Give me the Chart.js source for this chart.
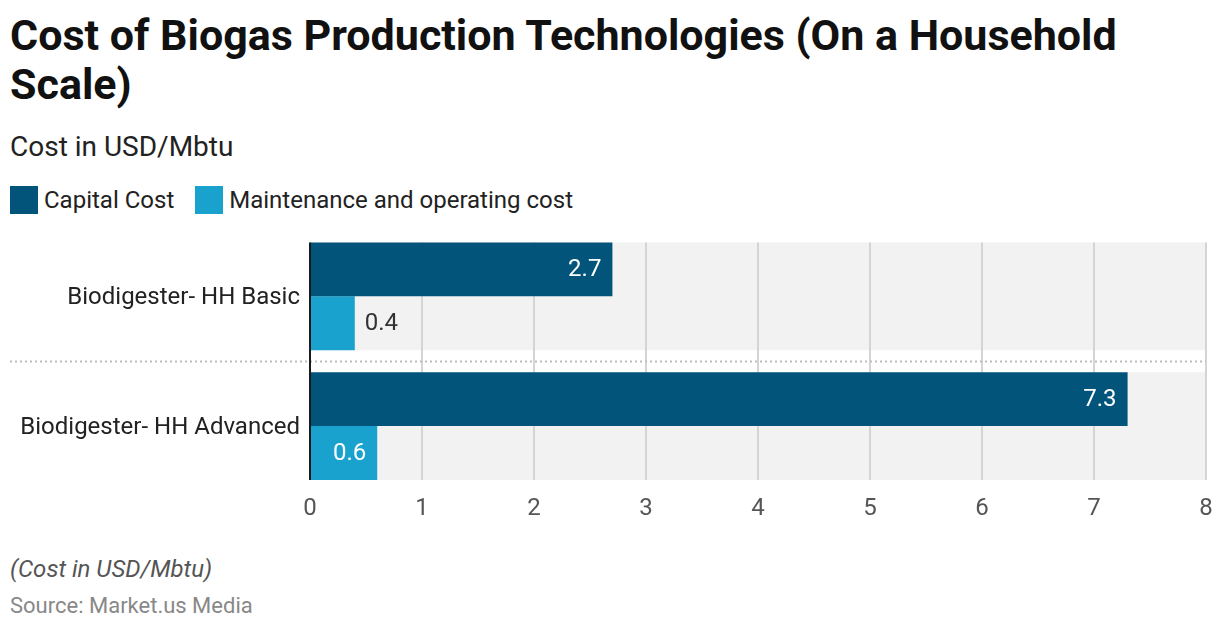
<!DOCTYPE html>
<html>
<head>
<meta charset="utf-8">
<script src="https://cdn.jsdelivr.net/npm/chart.js@4.4.1/dist/chart.umd.min.js"></script>
<style>
  body { margin: 0; background: #fff; font-family: Roboto, sans-serif; }
  #page { position: relative; width: 1220px; height: 632px; overflow: hidden; }
  .title { position: absolute; left: 10px; top: 11px; font-size: 43px; font-weight: 700; line-height: 49px; color: #111; white-space: nowrap; }
  .subtitle { position: absolute; left: 10px; top: 130px; font-size: 28px; color: #222; }
  .legend { position: absolute; left: 10px; top: 186px; font-size: 24px; color: #222; display: flex; align-items: center; }
  .legend .sw { width: 28px; height: 28px; display: inline-block; margin-right: 6px; }
  .legend .item { display: flex; align-items: center; margin-right: 21px; }
  .note { position: absolute; left: 10px; top: 555px; font-size: 24px; font-style: italic; color: #555; }
  .source { position: absolute; left: 10px; top: 593px; font-size: 22px; color: #888; }
  #wrap { position: absolute; left: 0; top: 207px; width: 1220px; height: 324px; }
</style>
</head>
<body>
<div id="page">
  <div class="title">Cost of Biogas Production Technologies (On a Household<br>Scale)</div>
  <div class="subtitle">Cost in USD/Mbtu</div>
  <div class="legend" id="legend"></div>
  <div id="wrap"><canvas id="chart"></canvas></div>
  <div class="note">(Cost in USD/Mbtu)</div>
  <div class="source">Source: Market.us Media</div>
</div>
<script>
"use strict";

/* ── Data ─────────────────────────────────────────────── */
const categories   = ["Biodigester- HH Basic", "Biodigester- HH Advanced"];
const seriesNames  = ["Capital Cost", "Maintenance and operating cost"];
const capitalCost  = [2.7, 7.3];
const maintenance  = [0.4, 0.6];
const xTicks       = [0, 1, 2, 3, 4, 5, 6, 7, 8];
const colors       = ["#02547B", "#1AA2CF"];

/* ── Legend ───────────────────────────────────────────── */
document.getElementById("legend").innerHTML = seriesNames.map((n, i) =>
  `<span class="item"><span class="sw" style="background:${colors[i]}"></span>${n}</span>`
).join("");

const CAT_PCT = 0.83;

/* ── Bands, grid, separator, labels ───────────────────── */
const bandsPlugin = {
  id: "bands",
  beforeDraw(chart) {
    const { ctx, chartArea, scales: { x, y } } = chart;
    const step = (y.getPixelForValue(1) - y.getPixelForValue(0));
    const half = step * CAT_PCT / 2;
    const top = y.getPixelForValue(0) - half;
    const bottom = y.getPixelForValue(categories.length - 1) + half;
    ctx.save();
    ctx.fillStyle = "#f2f2f2";
    categories.forEach((c, i) => {
      const cy = y.getPixelForValue(i);
      ctx.fillRect(chartArea.left, cy - half, chartArea.right - chartArea.left, half * 2);
    });
    // vertical grid lines
    ctx.strokeStyle = "#d4d4d4";
    ctx.lineWidth = 2;
    xTicks.forEach((t) => {
      if (t === 0) return;
      const px = Math.round(x.getPixelForValue(t));
      ctx.beginPath();
      ctx.moveTo(px, top);
      ctx.lineTo(px, bottom);
      ctx.stroke();
    });
    // dotted separators between categories
    ctx.strokeStyle = "#bdbdbd";
    ctx.setLineDash([2, 3]);
    for (let i = 0; i < categories.length - 1; i++) {
      const sy = Math.round((y.getPixelForValue(i) + y.getPixelForValue(i + 1)) / 2) + 0.5;
      ctx.beginPath();
      ctx.moveTo(10, sy);
      ctx.lineTo(chartArea.right, sy);
      ctx.stroke();
    }
    ctx.restore();
  },
  afterDatasetsDraw(chart) {
    const { ctx, scales: { x, y } } = chart;
    const step = (y.getPixelForValue(1) - y.getPixelForValue(0));
    const half = step * CAT_PCT / 2;
    const top = y.getPixelForValue(0) - half;
    const bottom = y.getPixelForValue(categories.length - 1) + half;
    // axis line
    ctx.save();
    ctx.strokeStyle = "#1a1a1a";
    ctx.lineWidth = 2;
    const ax = x.getPixelForValue(0);
    ctx.beginPath();
    ctx.moveTo(ax, top);
    ctx.lineTo(ax, bottom);
    ctx.stroke();
    // value labels
    ctx.font = "24px Roboto";
    ctx.textBaseline = "middle";
    chart.data.datasets.forEach((ds, di) => {
      chart.getDatasetMeta(di).data.forEach((bar, i) => {
        const w = bar.x - bar.base;
        const txt = String(ds.data[i]);
        if (w > 60) {
          ctx.fillStyle = "#ffffff";
          ctx.textAlign = "right";
          ctx.fillText(txt, bar.x - 11, bar.y + 1);
        } else {
          ctx.fillStyle = "#333333";
          ctx.textAlign = "left";
          ctx.fillText(txt, bar.x + 10, bar.y + 1);
        }
      });
    });
    ctx.restore();
  }
};

/* ── Chart ────────────────────────────────────────────── */
new Chart(document.getElementById("chart"), {
  type: "bar",
  data: {
    labels: categories,
    datasets: [
      { label: seriesNames[0], data: capitalCost, backgroundColor: colors[0] },
      { label: seriesNames[1], data: maintenance, backgroundColor: colors[1] },
    ],
  },
  options: {
    indexAxis: "y",
    responsive: true,
    maintainAspectRatio: false,
    animation: false,
    layout: { padding: { left: 0, right: 14, top: 0, bottom: 0 } },
    datasets: { bar: { categoryPercentage: CAT_PCT, barPercentage: 1 } },
    plugins: {
      legend: { display: false },
      tooltip: { enabled: false },
    },
    scales: {
      x: {
        min: 0,
        max: 8,
        afterBuildTicks: (s) => { s.ticks = xTicks.map((v) => ({ value: v })); },
        afterFit: (s) => { s.height = 40; },
        grid: { display: false, drawTicks: false },
        border: { display: false },
        ticks: { color: "#555", font: { family: "Roboto", size: 24 }, padding: 4 },
      },
      y: {
        afterFit: (s) => { s.width = 310; },
        grid: { display: false, drawTicks: false },
        border: { display: false },
        ticks: { color: "#222", font: { family: "Roboto", size: 24 }, padding: 10, labelOffset: 2 },
      },
    },
  },
  plugins: [bandsPlugin],
});
</script>
</body>
</html>
